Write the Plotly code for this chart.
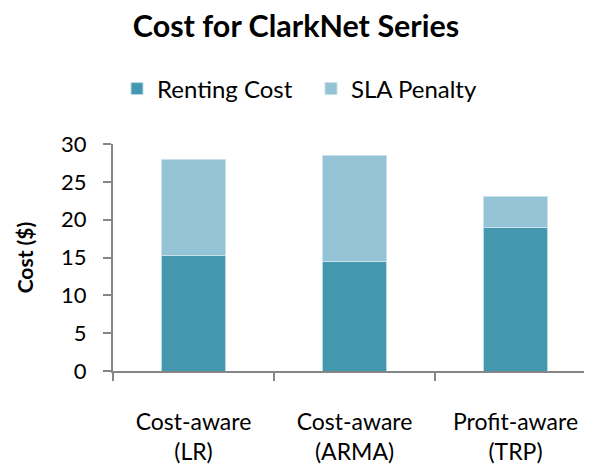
import plotly.graph_objects as go

categories = ["Cost-aware<br>(LR)", "Cost-aware<br>(ARMA)", "Profit-aware<br>(TRP)"]
renting_cost = [15.3, 14.5, 18.9]
sla_penalty = [12.7, 14.0, 4.1]
y_ticks = [0, 5, 10, 15, 20, 25, 30]

FONT = "Lato, 'Open Sans', sans-serif"
W, H = 584, 458  # page body has an 8px margin
fig = go.Figure()
fig.add_trace(go.Bar(x=categories, y=renting_cost, name="Renting Cost",
                     marker=dict(color="#4397AE", line=dict(color="#B9DCE6", width=1)),
                     width=0.395))
fig.add_trace(go.Bar(x=categories, y=sla_penalty, name="SLA Penalty",
                     marker=dict(color="#93C3D4", line=dict(color="#C6E1EA", width=1)),
                     width=0.395))

fig.update_layout(
    barmode="stack",
    width=W, height=H,
    margin=dict(l=105, r=0, t=136, b=95, autoexpand=False),
    paper_bgcolor="white", plot_bgcolor="white",
    font=dict(family=FONT, size=22, color="black"),
    title=dict(text="<b>Cost for ClarkNet Series</b>", x=(296 - 8) / W, xanchor="center", xref="container",
               y=1 - (26 - 8) / H, yanchor="middle", yref="container", font=dict(size=30.5, family=FONT)),
    legend=dict(orientation="h", x=(311 - 8) / W, xanchor="center", xref="container",
                y=1 - (89 - 8) / H, yanchor="middle", yref="container",
                font=dict(size=24), traceorder="normal", entrywidth=149),
    showlegend=True,
)
fig.update_xaxes(range=[-0.5, 2.475], showline=True, linecolor="#868686", linewidth=2,
                 ticks="outside", tickson="boundaries", ticklen=8, tickcolor="#868686",
                 tickwidth=2, showgrid=False, tickfont=dict(size=23), automargin=False,
                 ticklabelstandoff=29)
fig.update_yaxes(range=[0, 30], tickvals=y_ticks, showline=True, linecolor="#868686",
                 linewidth=2, ticks="outside", ticklen=8, tickcolor="#868686", tickwidth=2,
                 showgrid=False, zeroline=False, tickfont=dict(size=22), automargin=False,
                 ticklabelstandoff=12,
                 title=dict(text="<b>Cost ($)</b>", font=dict(size=21), standoff=22))

fig.write_html("out.html")
